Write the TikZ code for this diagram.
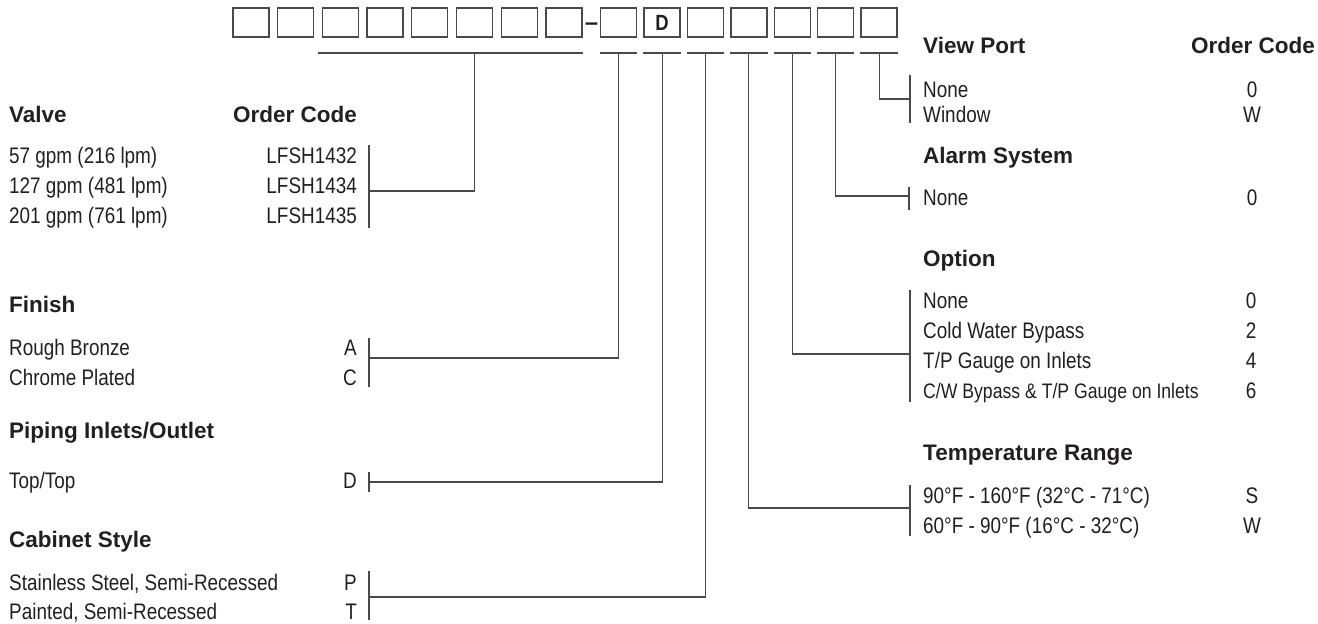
\documentclass[tikz,border=0pt]{standalone}
\usepackage{fontspec}
\setmainfont{Liberation Sans}
\newfontfamily\condfont[FakeStretch=0.84]{Liberation Sans}
\usetikzlibrary{positioning}
\definecolor{inkBlack}{HTML}{231F20}
\definecolor{ruleGrey}{HTML}{4A4A4A}

\tikzset{
  codebox/.style={draw=ruleGrey, line width=1.3pt, minimum width=36pt, minimum height=29pt, inner sep=0pt,
    text=inkBlack, font=\condfont\fontsize{22}{22}\selectfont\bfseries},
  rule/.style={draw=ruleGrey, line width=1.1pt},
  head/.style={anchor=base west, inner sep=0pt, text=inkBlack, font=\fontsize{22.5}{27}\selectfont\bfseries},
  item/.style={anchor=base west, inner sep=0pt, text=inkBlack, font=\condfont\fontsize{22.5}{27}\selectfont},
  smallitem/.style={item, font=\condfont\fontsize{21}{25}\selectfont},
  codeR/.style={item, anchor=base east},
  codeC/.style={item, anchor=base},
}

\begin{document}
\begin{tikzpicture}[x=1pt, y=-1pt]
  \useasboundingbox (0,0) rectangle (1318,624);

  % order code boxes
  \foreach \x [count=\i] in {251,295.7,340.4,385.1,429.8,474.5,519.2,563.9}
    \node[codebox] (b\i) at (\x,22.5) {};
  \node[font=\fontsize{24}{24}\selectfont\bfseries, text=inkBlack, inner sep=0pt, anchor=base] (dash) at (591.5,30) {–};
  \foreach \i/\x in {9/618.7,11/705.5,12/748.9,13/792.3,14/835.7,15/879.1}
    \node[codebox] (b\i) at (\x,22.5) {};
  \node[codebox] (b10) at (662.1,22.5) {D};

  % underlines
  \coordinate (ul) at (0,53);
  \draw[rule] (318,53) -- (b8.south east |- ul);
  \foreach \i in {9,...,15}
    \draw[rule] (b\i.south west |- ul) -- (b\i.south east |- ul);

  % left column
  \node[head] (valveHd) at (9,122) {Valve};
  \node[head, anchor=base east] (valveOc) at (357,122) {Order Code};
  \node[item] (valve1) at (9,163) {57 gpm (216 lpm)};
  \node[item] (valve2) at (9,193) {127 gpm (481 lpm)};
  \node[item] (valve3) at (9,223) {201 gpm (761 lpm)};
  \node[codeR] (valve1c) at (357,163) {LFSH1432};
  \node[codeR] (valve2c) at (357,193) {LFSH1434};
  \node[codeR] (valve3c) at (357,223) {LFSH1435};

  \node[head] (finishHd) at (9,312) {Finish};
  \node[item] (finish1) at (9,355) {Rough Bronze};
  \node[item] (finish2) at (9,385) {Chrome Plated};
  \node[codeR] (finish1c) at (357,355) {A};
  \node[codeR] (finish2c) at (357,385) {C};

  \node[head] (pipingHd) at (9,438) {Piping Inlets/Outlet};
  \node[item] (piping1) at (9,488) {Top/Top};
  \node[codeR] (piping1c) at (357,488) {D};

  \node[head] (cabinetHd) at (9,547) {Cabinet Style};
  \node[item] (cabinet1) at (9,590) {Stainless Steel, Semi-Recessed};
  \node[item] (cabinet2) at (9,619) {Painted, Semi-Recessed};
  \node[codeR] (cabinet1c) at (357,590) {P};
  \node[codeR] (cabinet2c) at (357,619) {T};

  % right column
  \node[head] (viewHd) at (923,53) {View Port};
  \node[head, anchor=base east] (viewOc) at (1315,53) {Order Code};
  \node[item] (view1) at (923,97) {None};
  \node[item] (view2) at (923,122) {Window};
  \node[codeC] (view1c) at (1252,97) {0};
  \node[codeC] (view2c) at (1252,122) {W};

  \node[head] (alarmHd) at (923,163) {Alarm System};
  \node[item] (alarm1) at (923,205) {None};
  \node[codeC] (alarm1c) at (1252,205) {0};

  \node[head] (optionHd) at (923,266) {Option};
  \node[item] (option1) at (923,308) {None};
  \node[item] (option2) at (923,338) {Cold Water Bypass};
  \node[item] (option3) at (923,368) {T/P Gauge on Inlets};
  \node[smallitem] (option4) at (923,398) {C/W Bypass \& T/P Gauge on Inlets};
  \node[codeC] (option1c) at (1251,308) {0};
  \node[codeC] (option2c) at (1251,338) {2};
  \node[codeC] (option3c) at (1251,368) {4};
  \node[codeC] (option4c) at (1251,398) {6};

  \node[head] (tempHd) at (923,460) {Temperature Range};
  \node[item] (temp1) at (923,503) {90°F - 160°F (32°C - 71°C)};
  \node[item] (temp2) at (923,533) {60°F - 90°F (16°C - 32°C)};
  \node[codeC] (temp1c) at (1252,503) {S};
  \node[codeC] (temp2c) at (1252,533) {W};

  % brackets
  \draw[rule] (369,145) -- (369,228);
  \draw[rule] (369,338) -- (369,387);
  \draw[rule] (369,472) -- (369,492);
  \draw[rule] (369,571) -- (369,620);
  \draw[rule] (910,75) -- (910,123);
  \draw[rule] (909,187) -- (909,210);
  \draw[rule] (910,290) -- (910,402);
  \draw[rule] (910,485) -- (910,536);
  \coordinate (valveBr) at (369,191);
  \coordinate (finishBr) at (369,358);
  \coordinate (pipingBr) at (369,482);
  \coordinate (cabinetBr) at (369,597);
  \coordinate (viewBr) at (910,99);
  \coordinate (alarmBr) at (909,196);
  \coordinate (optionBr) at (910,354);
  \coordinate (tempBr) at (910,508);

  % connectors
  \draw[rule] (b6.south |- ul) |- (valveBr);
  \draw[rule] (b9.south |- ul) |- (finishBr);
  \draw[rule] (b10.south |- ul) |- (pipingBr);
  \draw[rule] (b11.south |- ul) |- (cabinetBr);
  \draw[rule] (b12.south |- ul) |- (tempBr);
  \draw[rule] (b13.south |- ul) |- (optionBr);
  \draw[rule] (b14.south |- ul) |- (alarmBr);
  \draw[rule] (b15.south |- ul) |- (viewBr);
\end{tikzpicture}
\end{document}
